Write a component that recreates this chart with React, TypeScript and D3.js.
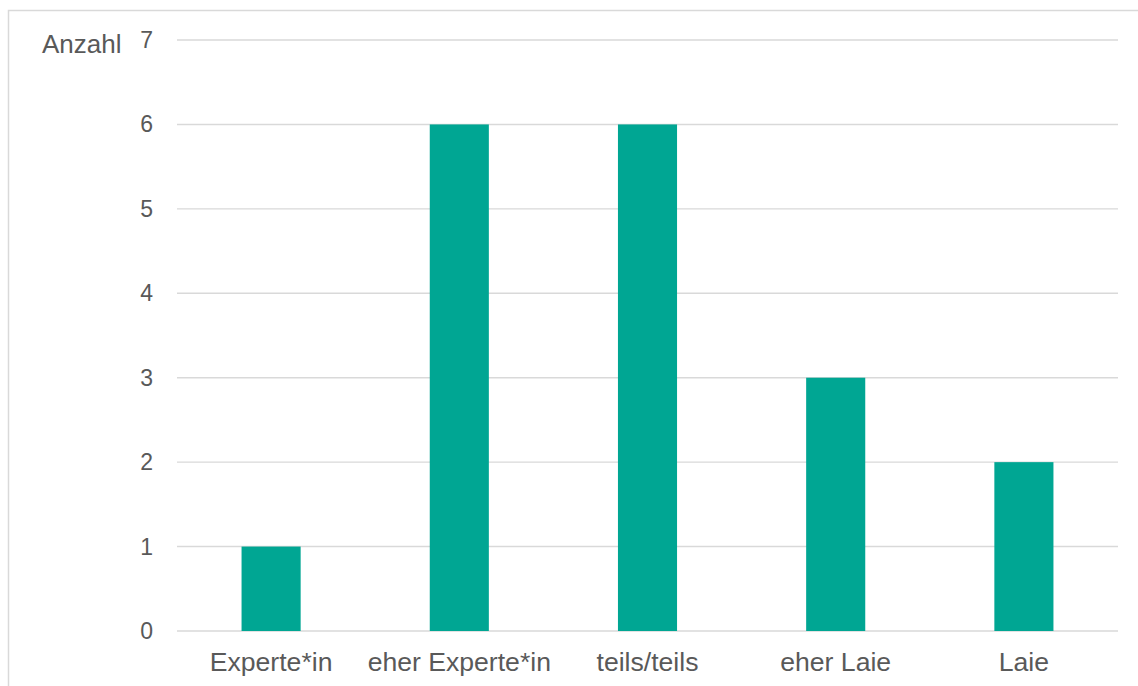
import React from "react";
import * as d3 from "d3";

// Chart data
const categories = ["Experte*in", "eher Experte*in", "teils/teils", "eher Laie", "Laie"];
const counts = [1, 6, 6, 3, 2];
const yTicks = [0, 1, 2, 3, 4, 5, 6, 7];
const yLabel = "Anzahl";

// Layout (page coordinates)
const width = 1138;
const height = 686;
const plotLeft = 177;
const plotRight = 1118;
const plotTop = 40;
const plotBottom = 631;
const barRatio = 0.314;

const gridColor = "#d9d9d9";
const textColor = "#595959";
const barColor = "#00a693";
const font = "'Liberation Sans', Arial, sans-serif";

const App: React.FC = () => {
  const x = d3.scaleBand<string>().domain(categories).range([plotLeft, plotRight]).padding(0);
  const y = d3.scaleLinear().domain([0, 7]).range([plotBottom, plotTop]);
  const barW = x.bandwidth() * barRatio;

  return (
    <svg
      width={width}
      height={height}
      style={{ position: "absolute", left: 0, top: 0, background: "#fff" }}
      fontFamily={font}
    >
      {/* chart area border */}
      <rect x={8.5} y={10.5} width={1200} height={800} fill="#fff" stroke={gridColor} strokeWidth={1.5} />

      {/* horizontal grid lines */}
      {yTicks.map((t) => (
        <line
          key={t}
          x1={plotLeft}
          x2={plotRight}
          y1={y(t)}
          y2={y(t)}
          stroke={gridColor}
          strokeWidth={1.4}
        />
      ))}

      {/* bars */}
      {categories.map((c, i) => (
        <rect
          key={c}
          x={(x(c) || 0) + (x.bandwidth() - barW) / 2}
          y={y(counts[i])}
          width={barW}
          height={y(0) - y(counts[i])}
          fill={barColor}
        />
      ))}

      {/* y tick labels */}
      {yTicks.map((t) => (
        <text
          key={t}
          x={153}
          y={y(t)}
          dy="0.35em"
          textAnchor="end"
          fontSize={23}
          fill={textColor}
        >
          {t}
        </text>
      ))}

      {/* y axis title */}
      <text x={42} y={53} fontSize={26} fill={textColor}>
        {yLabel}
      </text>

      {/* category labels */}
      {categories.map((c) => (
        <text
          key={c}
          x={(x(c) || 0) + x.bandwidth() / 2}
          y={671}
          textAnchor="middle"
          fontSize={26.6}
          fill={textColor}
        >
          {c}
        </text>
      ))}
    </svg>
  );
};

export default App;
